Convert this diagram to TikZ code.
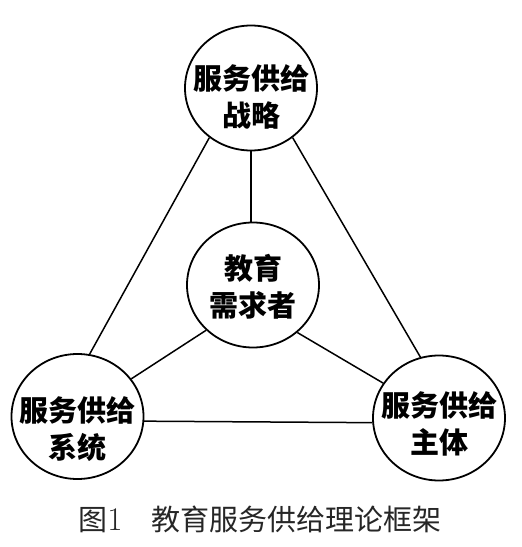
\documentclass[tikz,border=0pt]{standalone}
\usepackage{fontspec}
\newfontfamily\cjk{Noto Sans CJK SC}
\usepackage{tikz}
\usetikzlibrary{shapes.geometric}

\begin{document}
\begin{tikzpicture}[
    x=1pt, y=-1pt,
    ring/.style={draw, ellipse, inner sep=0pt, minimum width=132pt, minimum height=125pt, line width=1.8pt},
    lbl/.style={align=center, font=\cjk\bfseries\fontsize{29}{37}\selectfont},
    link/.style={line width=1.5pt}
]
\useasboundingbox (0,0) rectangle (522,547);
\node[ring] (stra) at (251,88) {};
\node[ring] (need) at (253,285) {};
\node[ring] (sys) at (77.5,416.5) {};
\node[ring] (subj) at (439,418) {};
\node[lbl] (stra-t) at (251,97) {服务供给\\战略};
\node[lbl] (need-t) at (253,287) {教育\\需求者};
\node[lbl] (sys-t) at (77.5,429) {服务供给\\系统};
\node[lbl] (subj-t) at (439,424) {服务供给\\主体};
\draw[link] (stra.south) -- (stra.south |- need.north);
\draw[link] (stra.230) -- (sys.79);
\draw[link] (stra.310) -- (subj.107);
\draw[link] (need.224) -- (sys.35);
\draw[link] (need.313) -- (subj.148);
\draw[link] (sys.-4) -- (subj.184);
\node[font=\cjk\fontsize{29}{35}\selectfont, text=black!85] (cap) at (260,519)
    {图{\rmfamily\fontsize{33}{35}\selectfont 1}\quad 教育服务供给理论框架};
\end{tikzpicture}
\end{document}
